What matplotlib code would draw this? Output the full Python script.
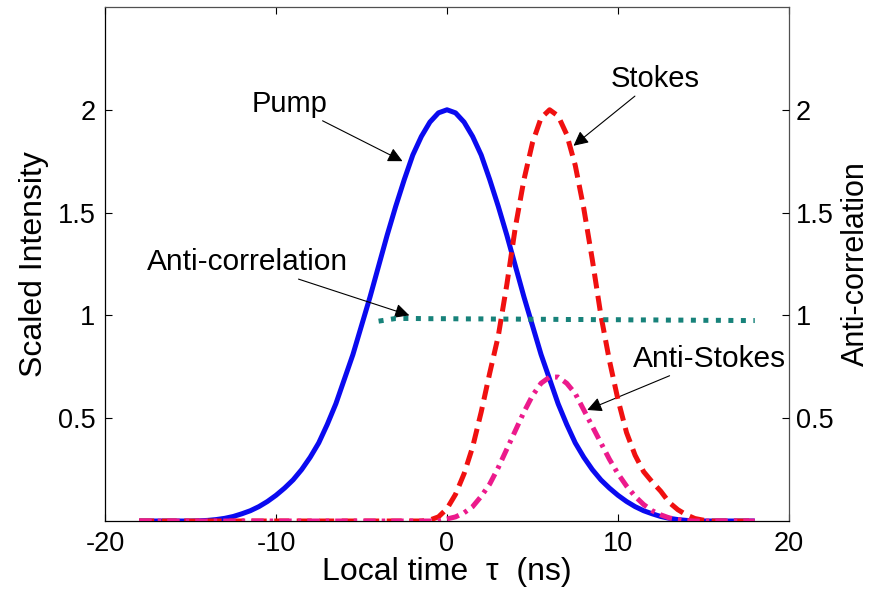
import numpy as np
import matplotlib
matplotlib.use("Agg")
from matplotlib import pyplot as plt

plt.rcParams['font.family'] = ['Liberation Sans', 'DejaVu Sans']
plt.rcParams['axes.unicode_minus'] = False

# local time grid (ns), 0.5 ns step from -18 to 18
tau = np.arange(-18, 18.01, 0.5)

# pump pulse (symmetric about 0), values for tau = 0, 0.5, ..., 18
pump_half = [2.00, 1.985, 1.94, 1.87, 1.78, 1.66, 1.53, 1.39, 1.24, 1.09,
             0.95, 0.81, 0.69, 0.57, 0.47, 0.38, 0.31, 0.25, 0.20, 0.16,
             0.125, 0.095, 0.07, 0.05, 0.035, 0.022, 0.013, 0.007, 0.003, 0.001,
             0.0, 0.0, 0.0, 0.0, 0.0, 0.0, 0.0]
pump = pump_half[:0:-1] + pump_half

# Stokes pulse, tau = -18 ... 18
stokes = [0.0] * 34 + [0.005, 0.02,                       # -1.0, -0.5
          0.06, 0.13, 0.23, 0.36, 0.53, 0.72, 0.90, 1.15, 1.43, 1.66,   # 0 .. 4.5
          1.84, 1.96, 2.00, 1.97, 1.88, 1.73, 1.52, 1.27, 1.00, 0.78,   # 5 .. 9.5
          0.59, 0.43, 0.32, 0.24, 0.19, 0.145, 0.09, 0.055, 0.03, 0.012,  # 10 .. 14.5
          0.004, 0.0, 0.0, 0.0, 0.0, 0.0, 0.0]                     # 15 .. 18

# anti-Stokes pulse, tau = -18 ... 18
anti_stokes = [0.0] * 36 + [
    0.01, 0.02, 0.04, 0.07, 0.12, 0.18, 0.26, 0.35, 0.44, 0.53,     # 0 .. 4.5
    0.61, 0.67, 0.70, 0.70, 0.67, 0.62, 0.54, 0.46, 0.38, 0.30,     # 5 .. 9.5
    0.23, 0.17, 0.12, 0.08, 0.05, 0.03, 0.015, 0.007, 0.002, 0.0,   # 10 .. 14.5
    0.0, 0.0, 0.0, 0.0, 0.0, 0.0, 0.0]                              # 15 .. 18

# anti-correlation coefficient
tau_c = np.arange(-4, 18.01, 1.0)
anti_corr = [0.972, 0.985, 0.985, 0.984, 0.984, 0.983, 0.983, 0.982, 0.982, 0.981,
             0.981, 0.980, 0.980, 0.979, 0.979, 0.978, 0.978, 0.977, 0.977, 0.976,
             0.976, 0.975, 0.975]

fig = plt.figure(figsize=(8.75, 6.01), dpi=100)
ax = fig.add_axes([0.12, 0.1331, 0.7817, 0.8553])

ax.plot(tau, pump, color='#0a0af0', lw=3.6, solid_capstyle='butt', zorder=3)
ax.plot(tau, stokes, color='#f01010', lw=3.6, dashes=(3.0, 1.5), zorder=4)
ax.plot(tau, anti_stokes, color='#ec1a8c', lw=3.6, dashes=(2.5, 1.2, 0.7, 1.2), zorder=5)
ax.plot(tau_c, anti_corr, color='#17827a', lw=3.6, dashes=(1.0, 1.5), zorder=4)

ax.set_xlim(-20, 20)
ax.set_ylim(0, 2.5)
ax.set_xticks([-20, -10, 0, 10, 20])
ax.set_yticks([0.5, 1, 1.5, 2])
ax.set_yticklabels(['0.5', '1', '1.5', '2'])
ax.tick_params(direction='in', length=5, width=0.8, labelsize=19.5, pad=7,
               top=True)
ax.set_xlabel('Local time  τ  (ns)', fontsize=23, labelpad=0)
ax.set_ylabel('Scaled Intensity', fontsize=23, labelpad=6)
for s in ax.spines.values():
    s.set_color('#505050')
    s.set_linewidth(0.9)
ax.spines['left'].set_color('black')
ax.spines['bottom'].set_color('black')

ax2 = ax.twinx()
ax2.set_ylim(0, 2.5)
ax2.set_yticks([0.5, 1, 1.5, 2])
ax2.set_yticklabels(['0.5', '1', '1.5', '2'])
ax2.tick_params(direction='in', length=5, width=0.8, labelsize=19.5, pad=5)
ax2.set_ylabel('Anti-correlation', fontsize=22, labelpad=5)
for s in ax2.spines.values():
    s.set_visible(False)

arrow = dict(arrowstyle='-|>', color='black', lw=0.8, mutation_scale=22,
             shrinkA=0, shrinkB=0)
ax.annotate('Pump', xy=(-2.6, 1.75), xytext=(-7.0, 1.96), fontsize=21,
            ha='right', va='bottom', arrowprops=arrow)
ax.annotate('Stokes', xy=(7.4, 1.825), xytext=(9.6, 2.08), fontsize=21,
            ha='left', va='bottom', arrowprops=arrow)
ax.annotate('Anti-correlation', xy=(-2.2, 1.0), xytext=(-5.8, 1.19),
            fontsize=21.5, ha='right', va='bottom', arrowprops=arrow)
ax.annotate('Anti-Stokes', xy=(8.2, 0.54), xytext=(10.9, 0.72), fontsize=21.5,
            ha='left', va='bottom', arrowprops=arrow)

fig.savefig('out.png', dpi=100)
